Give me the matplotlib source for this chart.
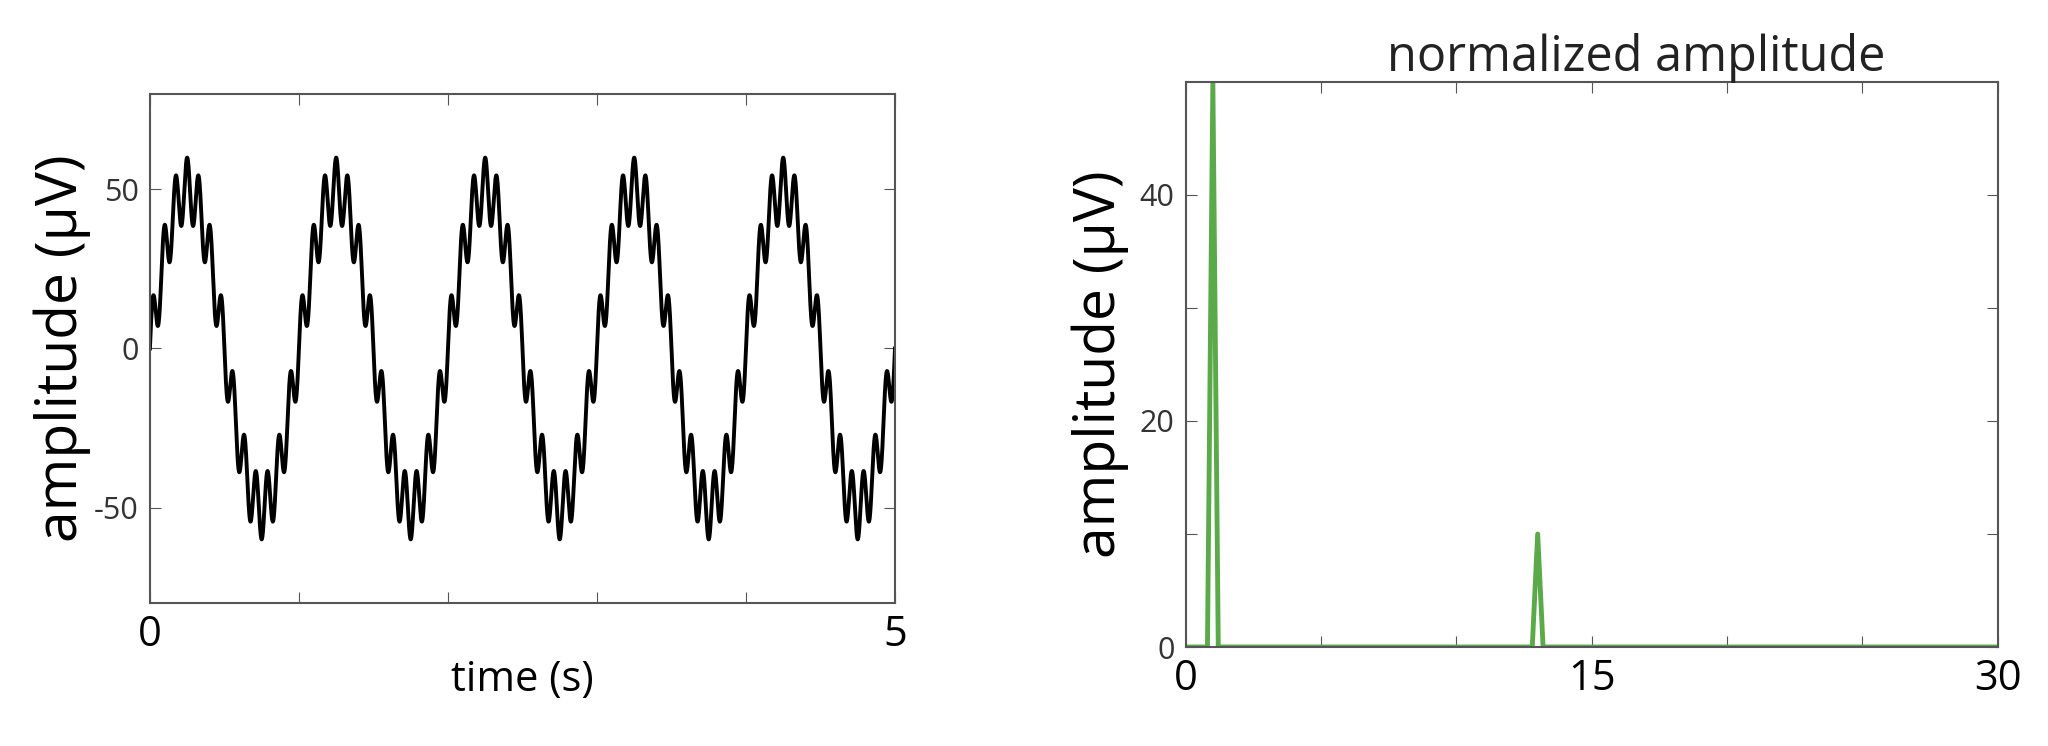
import numpy as np
import matplotlib
matplotlib.use('Agg')
import matplotlib.pyplot as plt

plt.rcParams['font.family'] = ['Open Sans', 'DejaVu Sans']

# components (Hz, uV)
freq_hz = [1, 13]
amp_uv = [50, 10]
duration_s = 5
freq_step = 0.2  # spectrum resolution (1/duration)
freq_max = 30

left_xticks = [0, 1, 2, 3, 4, 5]
left_xlabels = ['0', '', '', '', '', '5']
left_yticks = [-50, 0, 50]
right_xticks = [0, 5, 10, 15, 20, 25, 30]
right_xlabels = ['0', '', '', '15', '', '', '30']
right_yticks = [0, 10, 20, 30, 40]
right_ylabels = ['0', '', '20', '', '40']

# time signal from the components
t = np.linspace(0, duration_s, 6000)
sig = np.zeros_like(t)
for f, a in zip(freq_hz, amp_uv):
    sig += a * np.sin(2 * np.pi * f * t)

# spectrum on the frequency grid
freqs = np.round(np.arange(0, freq_max + freq_step / 2, freq_step), 3)
spec = np.zeros_like(freqs)
for f, a in zip(freq_hz, amp_uv):
    spec[np.argmin(np.abs(freqs - f))] = a

fig = plt.figure(figsize=(20.48, 7.46), dpi=100)
spine_col = '#555555'

ax1 = fig.add_axes([0.0732, 0.1917, 0.3638, 0.6823])
ax1.plot(t, sig, color='black', lw=2.8)
ax1.set_xlim(0, duration_s)
ax1.set_ylim(-80, 80)
ax1.set_xticks(left_xticks)
ax1.set_xticklabels(left_xlabels, fontsize=30)
ax1.set_yticks(left_yticks)
ax1.set_yticklabels([str(v) for v in left_yticks], fontsize=22, color='#333333')
ax1.tick_params(direction='in', top=True, right=True, length=8, color=spine_col, pad=8)
ax1.set_xlabel('time (s)', fontsize=30, labelpad=2)
ax1.set_ylabel('amplitude (µV)', fontsize=41, labelpad=2)

ax2 = fig.add_axes([0.579, 0.1327, 0.3965, 0.7574])
ax2.plot(freqs, spec, color='#5aaa4a', lw=3.5)
ax2.set_xlim(0, freq_max)
ax2.set_ylim(0, 50)
ax2.set_xticks(right_xticks)
ax2.set_xticklabels(right_xlabels, fontsize=30)
ax2.set_yticks(right_yticks)
ax2.set_yticklabels(right_ylabels, fontsize=22, color='#333333')
ax2.tick_params(direction='in', top=True, right=True, length=8, color=spine_col, pad=8)
ax2.set_ylabel('amplitude (µV)', fontsize=41, labelpad=8)
ax2.set_title('normalized amplitude', fontsize=35, color='#222222', pad=8, x=0.555)

for ax in (ax1, ax2):
    for s in ax.spines.values():
        s.set_color(spine_col)
        s.set_linewidth(1.5)

fig.savefig('out.png', dpi=100, facecolor='white')
